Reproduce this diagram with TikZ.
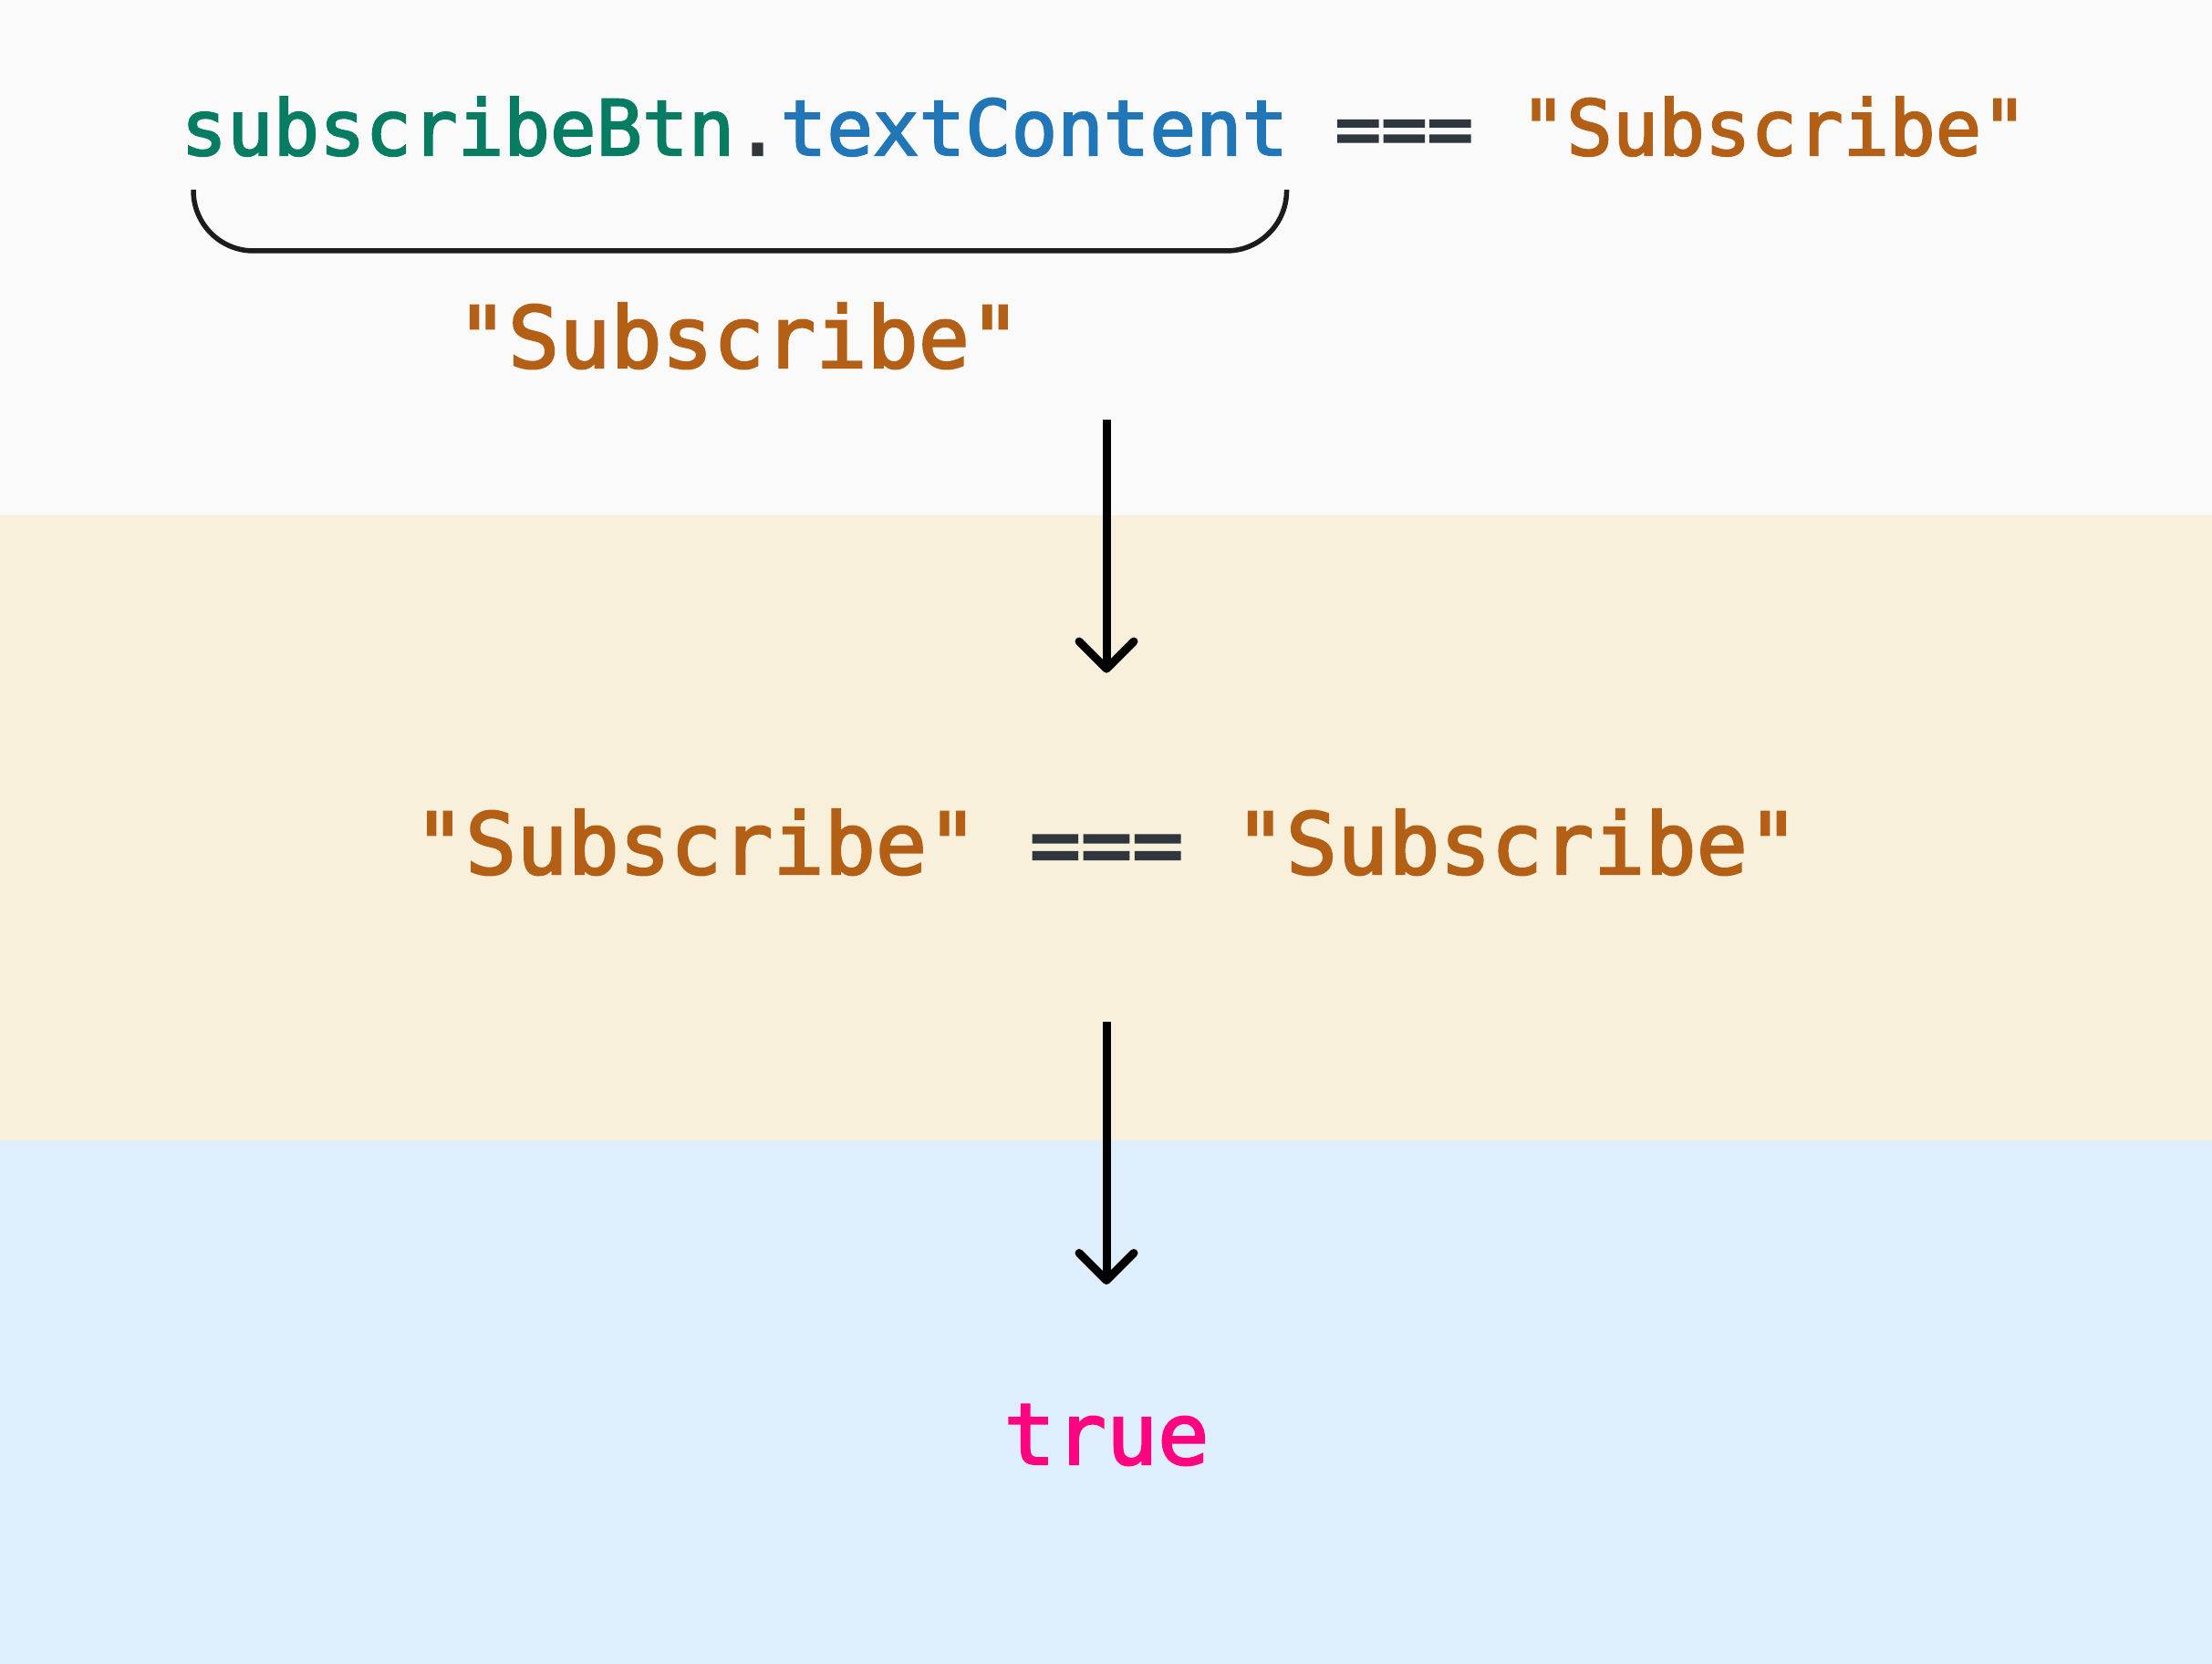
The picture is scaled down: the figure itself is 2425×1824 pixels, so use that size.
\documentclass[tikz,border=0pt]{standalone}
\usepackage{fontspec}
\usepackage{tikz}
\usetikzlibrary{arrows.meta,positioning}
\setmonofont{DejaVu Sans Mono}[FakeBold=2.5]
\definecolor{codegreen}{HTML}{067C62}
\definecolor{codeblue}{HTML}{2176B8}
\definecolor{codegray}{HTML}{2F363D}
\definecolor{codeorange}{HTML}{B45F16}
\definecolor{codepink}{HTML}{FF0381}
\definecolor{bgtop}{HTML}{FAFAFA}
\definecolor{bgmid}{HTML}{F8F0DA}
\definecolor{bgbot}{HTML}{DEEEFC}
\definecolor{brace}{HTML}{1C1C1C}

\begin{document}
\begin{tikzpicture}[x=0.5pt,y=-0.5pt,
  small code/.style={inner sep=0pt,anchor=base west,font=\ttfamily\fontsize{42pt}{50pt}\selectfont},
  big code/.style={inner sep=0pt,anchor=base,font=\ttfamily\fontsize{46.7pt}{55pt}\selectfont},
  flow/.style={line width=4.5pt,-{Straight Barb[length=15pt,width=30pt,line cap=round,line join=round]}}]
  \useasboundingbox (0,0) rectangle (2425,1824);
  \fill[bgtop] (0,0) rectangle (2425,565);
  \fill[bgmid] (0,565) rectangle (2425,1250);
  \fill[bgbot] (0,1250) rectangle (2425,1824);

  \node[small code] (lhs) at (198,170)
    {\color{codegreen}subscribeBtn\color{codegray}.\color{codeblue}textContent};
  \node[small code,text=codegray] (eq1) at ([xshift=25.3pt]lhs.base east) {===};
  \node[small code,text=codeorange] (val1) at ([xshift=25.3pt]eq1.base east) {"Subscribe"};
  \node[big code,text=codeorange] (sub) at (810,403) {"Subscribe"};
  \node[big code] (mid) at (1213,958)
    {\color{codeorange}"Subscribe" \color{codegray}=== \color{codeorange}"Subscribe"};
  \node[big code,text=codepink] (res) at (1213,1605) {true};
  \coordinate (start) at (1213,460);

  % bracket under the left operand
  \draw[brace,line width=2.75pt,rounded corners=33pt]
    ([xshift=7pt,yshift=-19pt]lhs.base west) -- ([xshift=7pt,yshift=-52.5pt]lhs.base west)
    -- ([xshift=-1pt,yshift=-52.5pt]lhs.base east) -- ([xshift=-1pt,yshift=-19pt]lhs.base east);

  \draw[flow,shorten >=74.5pt] (start) -- (mid.north);
  \draw[flow,shorten <=80pt,shorten >=65.5pt] (mid.south) -- (res.north);
\end{tikzpicture}
\end{document}
